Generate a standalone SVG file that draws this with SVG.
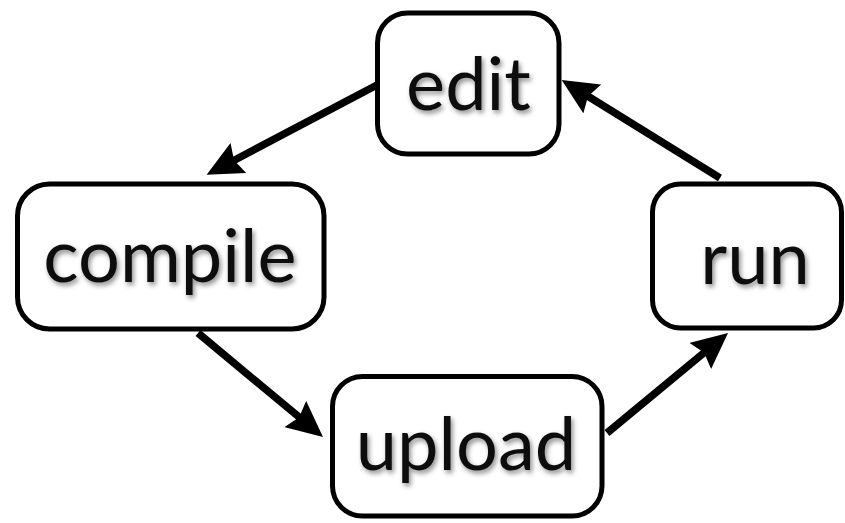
<svg xmlns="http://www.w3.org/2000/svg" width="845" height="523" viewBox="0 0 845 523">
  <style>
    .box { fill: #ffffff; stroke: #000000; stroke-width: 5; }
    .label { font-family: Lato, "Open Sans", "Liberation Sans", sans-serif; font-size: 74px; fill: #111111; text-anchor: middle; filter: url(#shadow); }
    .conn { fill: none; stroke: #000000; stroke-width: 7.5; stroke-linecap: butt; marker-end: url(#arrow); }
  </style>
  <defs>
    <filter id="shadow" x="-20%" y="-30%" width="140%" height="160%">
      <feDropShadow dx="2" dy="3" stdDeviation="2.5" flood-color="#000000" flood-opacity="0.45"/>
    </filter>
    <marker id="arrow" markerUnits="userSpaceOnUse" viewBox="0 0 36 34" markerWidth="36" markerHeight="34" refX="16" refY="17" orient="auto">
      <path d="M0,0 L36,17 L0,34 L5,17 Z" fill="#000000"/>
    </marker>
  </defs>
  <rect width="845" height="523" fill="#ffffff"/>
  <g id="connectors">
    <path class="conn" d="M377,85 L224.3,165.5"/>
    <path class="conn" d="M720,178 L578.7,90.5"/>
    <path class="conn" d="M198,333 L307.6,424.2"/>
    <path class="conn" d="M607,433 L712.6,345.7"/>
  </g>
  <g id="edit">
    <rect class="box" x="377.5" y="13" width="181.5" height="141" rx="30" ry="30"/>
    <text class="label" x="468.5" y="110">edit</text>
  </g>
  <g id="compile">
    <rect class="box" x="17.5" y="184" width="306.5" height="145" rx="32" ry="32"/>
    <text class="label" x="170" y="282">compile</text>
  </g>
  <g id="run">
    <rect class="box" x="652.5" y="184" width="189" height="144" rx="28" ry="28"/>
    <text class="label" x="755" y="284">run</text>
  </g>
  <g id="upload">
    <rect class="box" x="332.5" y="376.5" width="269.5" height="139.5" rx="30" ry="30"/>
    <text class="label" x="466" y="470">upload</text>
  </g>
</svg>
